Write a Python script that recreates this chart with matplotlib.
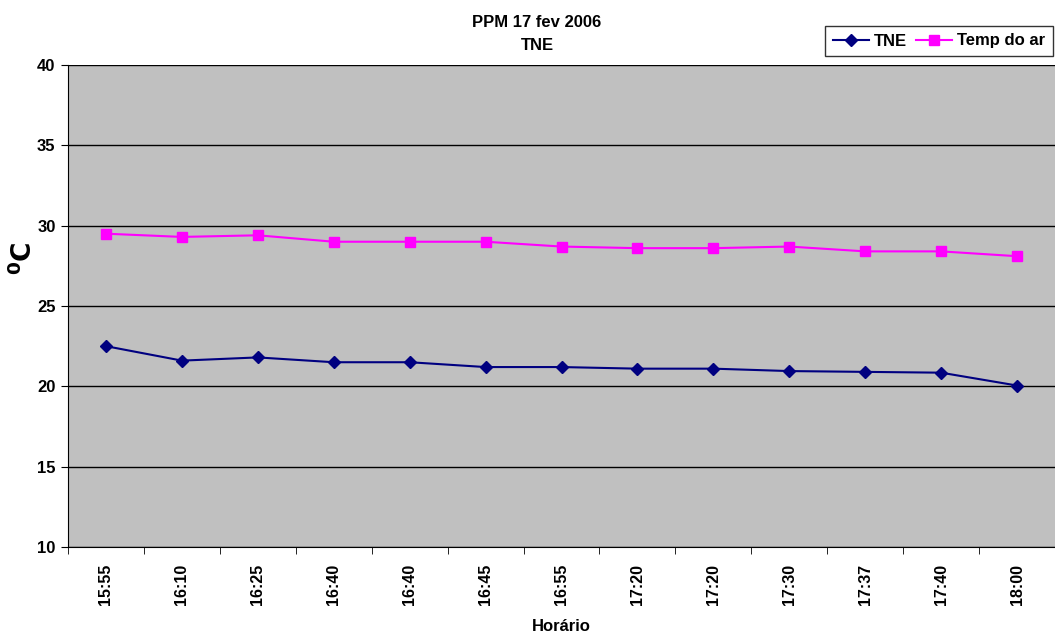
import matplotlib
matplotlib.use("Agg")
import matplotlib.pyplot as plt
import numpy as np

plt.rcParams['font.family'] = ['Liberation Sans', 'DejaVu Sans']
plt.rcParams['font.weight'] = 'bold'

categories = ["15:55", "16:10", "16:25", "16:40", "16:40", "16:45", "16:55",
              "17:20", "17:20", "17:30", "17:37", "17:40", "18:00"]
tne = [22.5, 21.6, 21.8, 21.5, 21.5, 21.2, 21.2, 21.1, 21.1, 20.95, 20.9, 20.85, 20.05]
temp_ar = [29.5, 29.3, 29.4, 29.0, 29.0, 29.0, 28.7, 28.6, 28.6, 28.7, 28.4, 28.4, 28.1]
yticks = [10, 15, 20, 25, 30, 35, 40]

fig = plt.figure(figsize=(10.55, 6.37), dpi=100)
ax = fig.add_axes([68/1055, 1-547/637, 1-68/1055, (547-65)/637])
ax.set_facecolor('#C0C0C0')

x = np.arange(len(categories))
ax.plot(x, tne, color='#000080', marker='D', markersize=6, linewidth=1.5, label='TNE')
ax.plot(x, temp_ar, color='#FF00FF', marker='s', markersize=7, linewidth=1.5, label='Temp do ar')

ax.set_xlim(-0.5, len(categories) - 0.5)
ax.set_ylim(10, 40)
ax.set_yticks(yticks)
ax.set_yticklabels([str(v) for v in yticks], fontsize=12, fontweight='bold')
ax.yaxis.grid(True, color='black', linewidth=1)
ax.set_axisbelow(True)

ax.set_xticks(x)
ax.set_xticklabels(categories, rotation=90, fontsize=11.5, fontweight='bold')
ax.tick_params(axis='x', which='major', length=0, pad=12)
ax.set_xticks(np.arange(-0.5, len(categories)), minor=True)
ax.tick_params(axis='x', which='minor', length=5, direction='out', color='black')
ax.tick_params(axis='y', length=5, direction='out', color='black', pad=4)

for s in ['top', 'right']:
    ax.spines[s].set_visible(False)
ax.spines['left'].set_color('black')
ax.spines['bottom'].set_color('black')

ax.set_xlabel('Horário', fontsize=12, fontweight='bold', labelpad=10)
fig.text(24/1055, 1-258/637, '$\\mathbf{^0}$C', rotation=90, ha='center', va='center',
         fontsize=19, fontweight='bold', family=['DejaVu Sans'])

fig.text(537/1055, 1-34/637, 'PPM 17 fev 2006\nTNE', ha='center', va='center',
         fontsize=12, fontweight='bold', linespacing=1.6)

leg = fig.legend(loc='upper right', bbox_to_anchor=(1053/1055, 1-26/637), ncol=2,
                 fontsize=12, frameon=True, fancybox=False, edgecolor='black',
                 handlelength=2.2, columnspacing=0.5, handletextpad=0.3,
                 borderpad=0.45, borderaxespad=0.0)
for t in leg.get_texts():
    t.set_fontweight('bold')
leg.get_frame().set_linewidth(1)

fig.savefig('out.png', dpi=100, facecolor='white')
